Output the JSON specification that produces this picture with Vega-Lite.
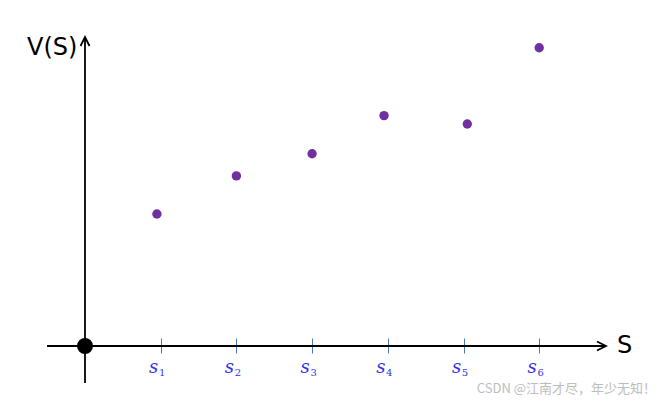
{
  "$schema": "https://vega.github.io/schema/vega-lite/v6.json",
  "width": 661,
  "height": 403,
  "padding": 0,
  "autosize": {"type": "none"},
  "background": "white",
  "config": {"view": {"stroke": null}},
  "datasets": {
    "values": [
      {"x": 0.95, "y": 4.4},
      {"x": 2.0, "y": 5.67},
      {"x": 3.0, "y": 6.41},
      {"x": 3.95, "y": 7.68},
      {"x": 5.05, "y": 7.4},
      {"x": 6.0, "y": 9.94}
    ],
    "origin": [{"x": 0, "y": 0}],
    "xline": [{"x": -0.502, "x2": 6.882, "y": 0}],
    "yline": [{"x": 0, "y": -1.233, "y2": 10.3}],
    "xarrow": [{"x": 6.882, "y": 0}],
    "yarrow": [{"x": 0, "y": 10.3}],
    "ticklabels": [
      {"x": 1, "y": 0, "sub": "1"},
      {"x": 2, "y": 0, "sub": "2"},
      {"x": 3, "y": 0, "sub": "3"},
      {"x": 4, "y": 0, "sub": "4"},
      {"x": 5, "y": 0, "sub": "5"},
      {"x": 6, "y": 0, "sub": "6"}
    ],
    "labels": [
      {"x": -0.766, "y": 9.93, "text": "V(S)"},
      {"x": 7.028, "y": 0, "text": "S"}
    ],
    "mark": [{"x": 7.543, "y": -1.433, "text": "CSDN @江南才尽，年少无知！"}]
  },
  "layer": [
    {
      "data": {"name": "xline"},
      "mark": {"type": "rule", "color": "black", "strokeWidth": 1.8},
      "encoding": {
        "x": {"field": "x", "type": "quantitative", "scale": {"domain": [-1.1229, 7.609], "nice": false, "zero": false},
          "axis": {"title": null, "values": [1, 2, 3, 4, 5, 6], "domain": false, "grid": false, "offset": -65, "tickSize": 15, "tickColor": "#4a78b4", "tickWidth": 1, "labels": false}},
        "x2": {"field": "x2"},
        "y": {"field": "y", "type": "quantitative", "scale": {"domain": [-1.9, 11.533], "nice": false, "zero": false}, "axis": null}
      }
    },
    {
      "data": {"name": "yline"},
      "mark": {"type": "rule", "color": "black", "strokeWidth": 1.8},
      "encoding": {
        "x": {"field": "x", "type": "quantitative"},
        "y": {"field": "y", "type": "quantitative", "axis": null},
        "y2": {"field": "y2"}
      }
    },
    {
      "data": {"name": "xarrow"},
      "mark": {"type": "point", "shape": "M -1 -0.5 L 0 0 L -1 0.5", "filled": false, "stroke": "black", "strokeWidth": 1.8, "size": 324, "opacity": 1},
      "encoding": {
        "x": {"field": "x", "type": "quantitative"},
        "y": {"field": "y", "type": "quantitative", "axis": null}
      }
    },
    {
      "data": {"name": "yarrow"},
      "mark": {"type": "point", "shape": "M -0.5 1 L 0 0 L 0.5 1", "filled": false, "stroke": "black", "strokeWidth": 1.8, "size": 324, "opacity": 1},
      "encoding": {
        "x": {"field": "x", "type": "quantitative"},
        "y": {"field": "y", "type": "quantitative", "axis": null}
      }
    },
    {
      "data": {"name": "values"},
      "mark": {"type": "circle", "color": "#7030a0", "size": 88, "opacity": 1},
      "encoding": {
        "x": {"field": "x", "type": "quantitative"},
        "y": {"field": "y", "type": "quantitative", "axis": null}
      }
    },
    {
      "data": {"name": "origin"},
      "mark": {"type": "circle", "color": "black", "size": 254, "opacity": 1},
      "encoding": {
        "x": {"field": "x", "type": "quantitative"},
        "y": {"field": "y", "type": "quantitative", "axis": null}
      }
    },
    {
      "data": {"name": "ticklabels"},
      "mark": {"type": "text", "align": "center", "baseline": "alphabetic", "font": "DejaVu Serif", "fontStyle": "italic", "fontSize": 18, "color": "#3333ee", "dx": -7, "dy": 27, "text": "s"},
      "encoding": {
        "x": {"field": "x", "type": "quantitative"},
        "y": {"field": "y", "type": "quantitative", "axis": null}
      }
    },
    {
      "data": {"name": "ticklabels"},
      "mark": {"type": "text", "align": "center", "baseline": "alphabetic", "font": "DejaVu Serif", "fontSize": 10, "color": "#3333ee", "dx": 1.5, "dy": 30},
      "encoding": {
        "x": {"field": "x", "type": "quantitative"},
        "y": {"field": "y", "type": "quantitative", "axis": null},
        "text": {"field": "sub"}
      }
    },
    {
      "data": {"name": "labels"},
      "mark": {"type": "text", "align": "left", "baseline": "middle", "font": "DejaVu Sans", "fontSize": 24, "color": "black"},
      "encoding": {
        "x": {"field": "x", "type": "quantitative"},
        "y": {"field": "y", "type": "quantitative", "axis": null},
        "text": {"field": "text"}
      }
    },
    {
      "data": {"name": "mark"},
      "mark": {"type": "text", "align": "right", "baseline": "middle", "font": "Noto Sans CJK SC", "fontSize": 13, "color": "#bdbdbd"},
      "encoding": {
        "x": {"field": "x", "type": "quantitative"},
        "y": {"field": "y", "type": "quantitative", "axis": null},
        "text": {"field": "text"}
      }
    }
  ]
}
